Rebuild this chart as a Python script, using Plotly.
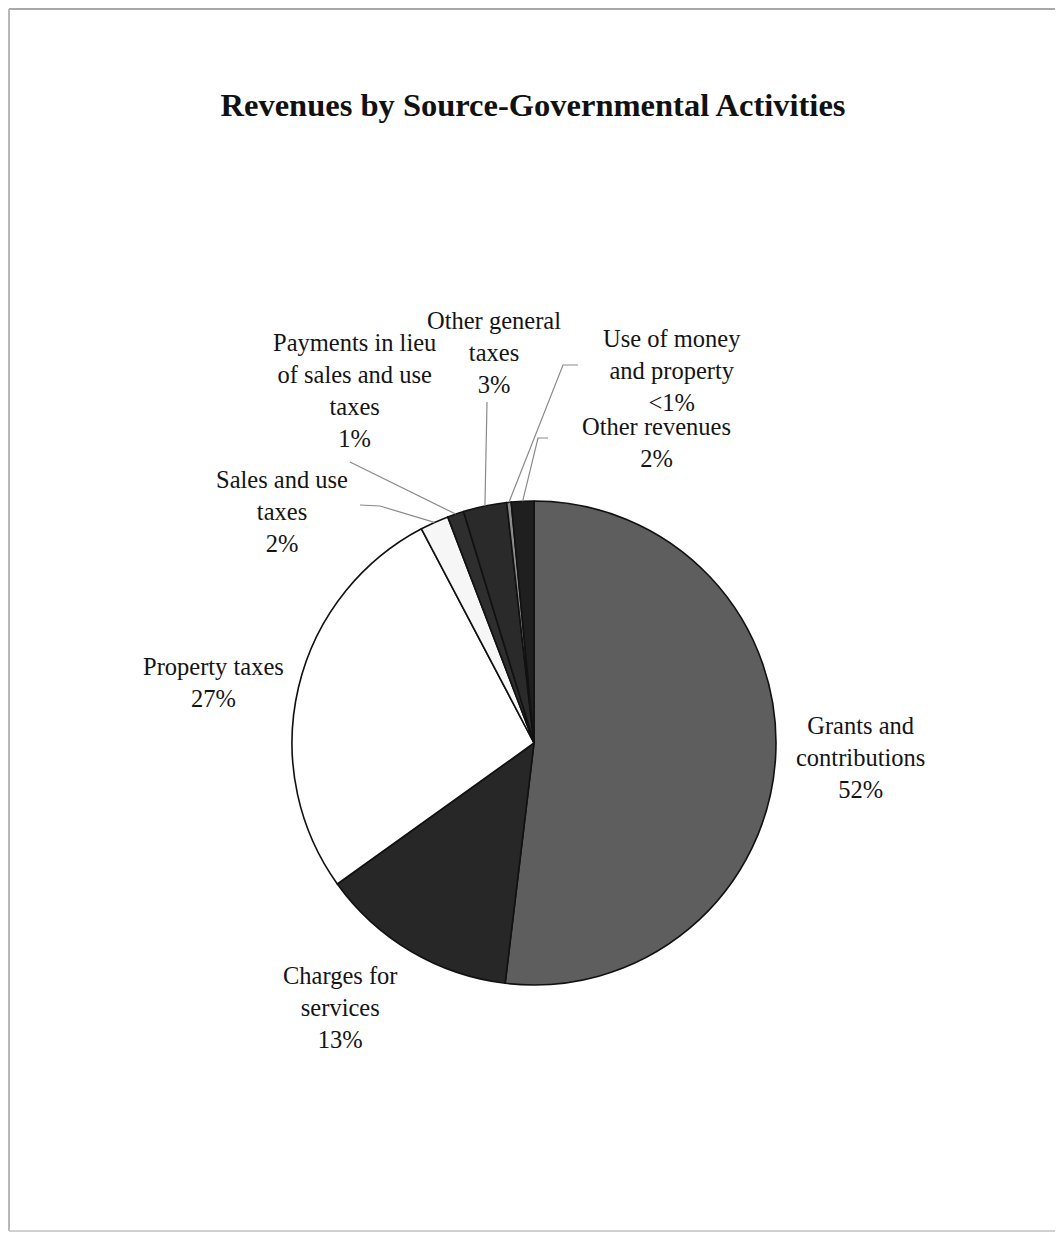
import math
import plotly.graph_objects as go

# ---------------- data ----------------
categories = [
    "Grants and contributions",
    "Charges for services",
    "Property taxes",
    "Sales and use taxes",
    "Payments in lieu of sales and use taxes",
    "Other general taxes",
    "Use of money and property",
    "Other revenues",
]
shares = [51.9, 13.2, 27.2, 1.9, 1.1, 2.9, 0.3, 1.5]
pct_labels = ["52%", "13%", "27%", "2%", "1%", "3%", "<1%", "2%"]
label_lines = [
    ["Grants and", "contributions"],
    ["Charges for", "services"],
    ["Property taxes"],
    ["Sales and use", "taxes"],
    ["Payments in lieu", "of sales and use", "taxes"],
    ["Other general", "taxes"],
    ["Use of money", "and property"],
    ["Other revenues"],
]
slice_colors = ["#5e5e5e", "#272727", "#ffffff", "#f6f6f6",
                "#2e2e2e", "#2a2a2a", "#8c8c8c", "#1f1f1f"]

# ---------------- layout geometry (page pixels) ----------------
W, H = 1047, 1225   # fits inside the window with the default 8px page margin
OFF = 8
CX, CY, R = 534, 743, 242  # pie centre / radius in page px

def px(x):
    return (x - OFF) / W

def py(y):
    return 1 - (y - OFF) / H

# label block centres (px)
label_pos = [(860, 757), (340, 1007), (214, 682), (282, 511),
             (354, 391), (494, 352), (672, 370), (656, 442)]
# leader-line starting points (px), None = no leader line
leader_start = [None, None, None,
                [(360, 505), (380, 506)],
                [(350, 462)],
                [(487, 402)],
                [(578, 365), (563, 365)],
                [(548, 438), (538, 438)]]

FONT = "Liberation Serif, Times New Roman, serif"

fig = go.Figure()
fig.add_trace(go.Pie(
    labels=categories,
    values=shares,
    sort=False,
    direction="clockwise",
    rotation=0,
    textinfo="none",
    hoverinfo="label+percent",
    marker=dict(colors=slice_colors, line=dict(color="#111111", width=1.6)),
    domain=dict(x=[px(CX - R), px(CX + R)], y=[py(CY + R), py(CY - R)]),
    showlegend=False,
))

annotations = []
for lines, pct, (lx, ly) in zip(label_lines, pct_labels, label_pos):
    annotations.append(dict(
        x=px(lx), y=py(ly), xref="paper", yref="paper",
        text="<br>".join(lines + [pct]), showarrow=False,
        xanchor="center", yanchor="middle", align="center",
        font=dict(family=FONT, size=24.5, color="#141414"),
    ))

# leader lines: end point derived from each slice's mid-angle
shapes = []
total = sum(shares)
cum = 0.0
for v, start in zip(shares, leader_start):
    mid = (cum + v / 2) / total * 2 * math.pi
    cum += v
    if start is None:
        continue
    ex = CX + R * math.sin(mid)
    ey = CY - R * math.cos(mid)
    pts = start + [(ex, ey)]
    path = "M " + " L ".join(f"{px(a):.5f},{py(b):.5f}" for a, b in pts)
    shapes.append(dict(type="path", path=path, xref="paper", yref="paper",
                       line=dict(color="#8a8a8a", width=1.2)))

# page frame (top, left, bottom edges of the scanned page)
frame = [((9, 9), (1060, 9), "#a8a8a8"),
         ((9, 9), (9, 1231), "#b8b8b8"),
         ((9, 1231), (1060, 1231), "#d0d0d0")]
for (x0, y0), (x1, y1), col in frame:
    shapes.append(dict(type="line", xref="paper", yref="paper",
                       x0=px(x0), y0=py(y0), x1=px(x1), y1=py(y1),
                       line=dict(color=col, width=2), layer="below"))

fig.update_layout(
    width=W, height=H,
    margin=dict(l=0, r=0, t=0, b=0),
    paper_bgcolor="white", plot_bgcolor="white",
    title=dict(text="<b>Revenues by Source-Governmental Activities</b>",
               x=px(533), y=py(105), xanchor="center", yanchor="middle",
               font=dict(family=FONT, size=32.5, color="#111111")),
    annotations=annotations,
    shapes=shapes,
)

fig.write_html("out.html")
